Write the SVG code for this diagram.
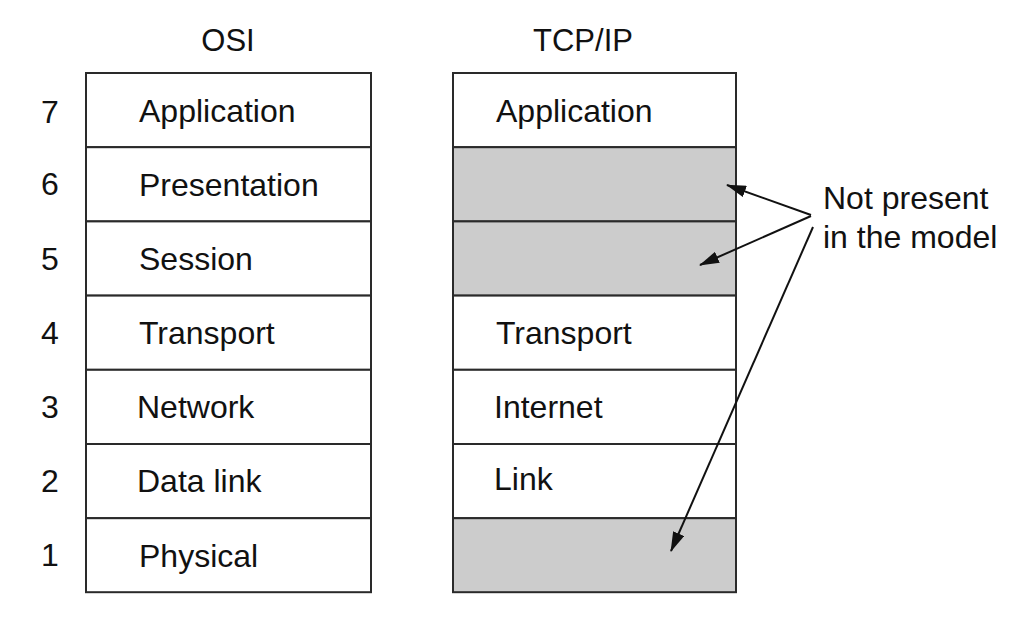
<svg xmlns="http://www.w3.org/2000/svg" width="1017" height="629" viewBox="0 0 1017 629">
  <defs>
    <style>
      .title { font-family: "Liberation Sans", Arial, sans-serif; font-size: 31px; fill: #111; text-anchor: middle; }
      .label { font-family: "Liberation Sans", Arial, sans-serif; font-size: 32px; fill: #111; }
      .num { font-family: "Liberation Sans", Arial, sans-serif; font-size: 32px; fill: #111; text-anchor: middle; }
      .layer { fill: #ffffff; stroke: #2a2a2a; stroke-width: 2; }
      .absent { fill: #cccccc; stroke: #2a2a2a; stroke-width: 2; }
      .pointer { fill: none; stroke: #111; stroke-width: 2; }
    </style>
    <marker id="head" viewBox="0 0 20 12" refX="19" refY="6" markerWidth="20" markerHeight="12" markerUnits="userSpaceOnUse" orient="auto">
      <path d="M0,0 L20,6 L0,12 z" fill="#111"/>
    </marker>
  </defs>

  <rect width="1017" height="629" fill="#ffffff"/>

  <!-- column headings -->
  <text class="title" x="228" y="50.5">OSI</text>
  <text class="title" x="583" y="50.5">TCP/IP</text>

  <!-- layer numbers -->
  <g id="layer-numbers">
    <text class="num" x="50" y="122.5">7</text>
    <text class="num" x="50" y="195">6</text>
    <text class="num" x="50" y="270">5</text>
    <text class="num" x="50" y="344">4</text>
    <text class="num" x="50" y="418">3</text>
    <text class="num" x="50" y="492">2</text>
    <text class="num" x="50" y="566">1</text>
  </g>

  <!-- OSI stack -->
  <g id="osi-application">
    <rect class="layer" x="86" y="73" width="285" height="74.2"/>
    <text class="label" x="139" y="122">Application</text>
  </g>
  <g id="osi-presentation">
    <rect class="layer" x="86" y="147.2" width="285" height="74.2"/>
    <text class="label" x="139" y="196">Presentation</text>
  </g>
  <g id="osi-session">
    <rect class="layer" x="86" y="221.4" width="285" height="74.2"/>
    <text class="label" x="139" y="270">Session</text>
  </g>
  <g id="osi-transport">
    <rect class="layer" x="86" y="295.6" width="285" height="74.2"/>
    <text class="label" x="139" y="344">Transport</text>
  </g>
  <g id="osi-network">
    <rect class="layer" x="86" y="369.8" width="285" height="74.2"/>
    <text class="label" x="137" y="418">Network</text>
  </g>
  <g id="osi-datalink">
    <rect class="layer" x="86" y="444" width="285" height="74.2"/>
    <text class="label" x="137" y="492">Data link</text>
  </g>
  <g id="osi-physical">
    <rect class="layer" x="86" y="518.2" width="285" height="74"/>
    <text class="label" x="139" y="566.5">Physical</text>
  </g>

  <!-- TCP/IP stack -->
  <g id="tcpip-application">
    <rect class="layer" x="453" y="73" width="283" height="74.2"/>
    <text class="label" x="496" y="122">Application</text>
  </g>
  <g id="tcpip-gap-6">
    <rect class="absent" x="453" y="147.2" width="283" height="74.2"/>
  </g>
  <g id="tcpip-gap-5">
    <rect class="absent" x="453" y="221.4" width="283" height="74.2"/>
  </g>
  <g id="tcpip-transport">
    <rect class="layer" x="453" y="295.6" width="283" height="74.2"/>
    <text class="label" x="496" y="344">Transport</text>
  </g>
  <g id="tcpip-internet">
    <rect class="layer" x="453" y="369.8" width="283" height="74.2"/>
    <text class="label" x="494" y="418">Internet</text>
  </g>
  <g id="tcpip-link">
    <rect class="layer" x="453" y="444" width="283" height="74.2"/>
    <text class="label" x="494" y="490">Link</text>
  </g>
  <g id="tcpip-gap-1">
    <rect class="absent" x="453" y="518.2" width="283" height="74"/>
  </g>

  <!-- note -->
  <g id="note">
    <text class="label" x="823" y="209">Not present</text>
    <text class="label" x="823" y="248">in the model</text>
  </g>

  <!-- pointers from the note -->
  <g id="connectors">
    <line class="pointer" x1="811" y1="215" x2="727" y2="185" marker-end="url(#head)"/>
    <line class="pointer" x1="811" y1="216" x2="700" y2="265" marker-end="url(#head)"/>
    <line class="pointer" x1="813" y1="227" x2="671" y2="551" marker-end="url(#head)"/>
  </g>
</svg>
